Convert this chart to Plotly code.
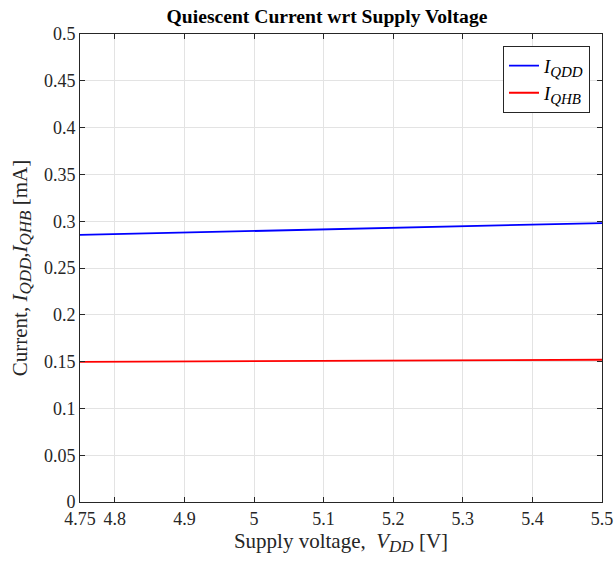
import plotly.graph_objects as go

voltage = [4.75, 5.0, 5.25, 5.5]
i_qdd = [0.2853, 0.2893, 0.2935, 0.2980]
i_qhb = [0.1497, 0.1505, 0.1512, 0.1520]
x_ticks = [4.75, 4.8, 4.9, 5.0, 5.1, 5.2, 5.3, 5.4, 5.5]
x_tick_labels = ["4.75", "4.8", "4.9", "5", "5.1", "5.2", "5.3", "5.4", "5.5"]
y_ticks = [0, 0.05, 0.1, 0.15, 0.2, 0.25, 0.3, 0.35, 0.4, 0.45, 0.5]
y_tick_labels = ["0", "0.05", "0.1", "0.15", "0.2", "0.25", "0.3", "0.35", "0.4", "0.45", "0.5"]

FONT = "Liberation Serif"


def sub(t, size):
    return f"<sub><span style='font-size:{size}px'><i>{t}</i></span></sub>"


fig = go.Figure()
fig.add_trace(go.Scatter(x=voltage, y=i_qdd, mode="lines",
                         line=dict(color="#0000ff", width=1.8),
                         name="<i>I</i>" + sub("QDD", 15)))
fig.add_trace(go.Scatter(x=voltage, y=i_qhb, mode="lines",
                         line=dict(color="#ff0000", width=1.8),
                         name="<i>I</i>" + sub("QHB", 15)))

axis_common = dict(showline=True, linecolor="#262626", linewidth=1, mirror="ticks",
                   ticks="inside", ticklen=5, tickcolor="#262626",
                   showgrid=True, gridcolor="#e3e3e3", gridwidth=1, zeroline=False,
                   tickfont=dict(family=FONT, size=18, color="#262626"))

W, H = 615, 566
fig.update_layout(
    width=W, height=H,
    margin=dict(l=80, r=13, t=34, b=64),
    paper_bgcolor="white", plot_bgcolor="white",
    font=dict(family=FONT, color="#262626"),
    title=dict(text="<b>Quiescent Current wrt Supply Voltage</b>",
               x=327 / W, xanchor="center", y=1 - 16 / H, yanchor="middle",
               font=dict(family=FONT, size=19.6, color="black")),
    xaxis=dict(range=[4.75, 5.5], tickvals=x_ticks, ticktext=x_tick_labels,
               automargin=False,
               title=dict(text="Supply voltage,  <i>V</i>" + sub("DD", 17) + " [V]",
                          font=dict(family=FONT, size=21, color="#262626"), standoff=5),
               **axis_common),
    yaxis=dict(range=[0, 0.5], tickvals=y_ticks, ticktext=y_tick_labels,
               automargin=False,
               title=dict(text="Current, <i>I</i>" + sub("QDD", 17) + ",<i>I</i>" + sub("QHB", 17) + " [mA]",
                          font=dict(family=FONT, size=21, color="#262626"), standoff=10),
               **axis_common),
    legend=dict(x=0.977, xanchor="right", y=0.974, yanchor="top",
                bgcolor="white", bordercolor="#262626", borderwidth=1,
                font=dict(family=FONT, size=18.5, color="black"),
                tracegroupgap=0),
    showlegend=True,
)

fig.write_html("out.html", config={"displayModeBar": False},
               post_script="document.body.style.margin='0';document.body.style.overflow='hidden';")
